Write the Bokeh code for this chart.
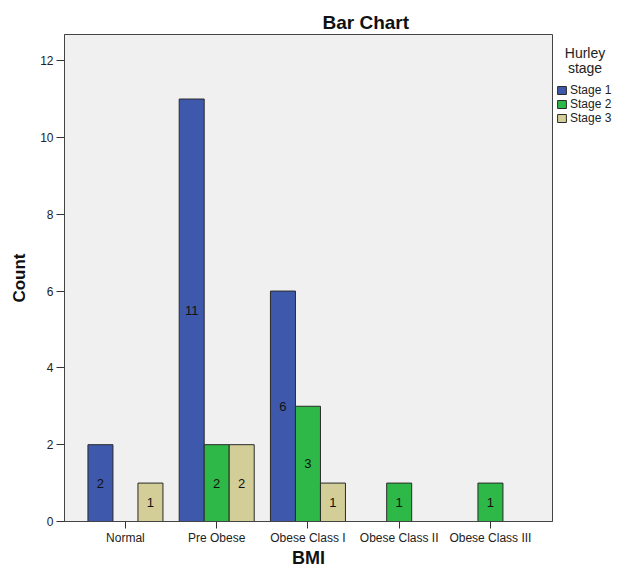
import numpy as np
from bokeh.plotting import figure
from bokeh.layouts import row
from bokeh.models import ColumnDataSource, Range1d, Legend, LegendItem, Title, Label
from bokeh.transform import dodge
from bokeh.core.properties import value
from bokeh.embed import file_html
from bokeh.resources import INLINE

# ---- data ----
categories = ["Normal", "Pre Obese", "Obese Class I", "Obese Class II", "Obese Class III"]
stage_names = ["Stage 1", "Stage 2", "Stage 3"]
stage1 = [2, 11, 6, 0, 0]
stage2 = [0, 2, 3, 1, 1]
stage3 = [1, 2, 1, 0, 0]
y_ticks = [0, 2, 4, 6, 8, 10, 12]

colors = ["#3E58AC", "#2EB848", "#D3CE97"]
FONT = "Liberation Sans"

p = figure(width=554, height=570, output_backend="svg", toolbar_location=None,
           x_range=Range1d(-0.668, 4.68), y_range=Range1d(0, 12.68),
           min_border_left=64, min_border_right=2, min_border_top=34, min_border_bottom=49)
p.background_fill_color = "#F0F0F0"
p.border_fill_color = "white"
p.outline_line_color = "#444444"
p.outline_line_width = 1
p.grid.visible = False

# axes
p.yaxis.ticker = y_ticks
p.yaxis.axis_label = "Count"
p.xaxis.ticker = list(range(len(categories)))
p.xaxis.major_label_overrides = {i: c for i, c in enumerate(categories)}
p.xaxis.axis_label = "BMI"
for ax in (p.xaxis, p.yaxis):
    ax.minor_tick_line_color = None
    ax.major_tick_in = 0
    ax.major_tick_line_color = "#333333"
    ax.axis_line_color = "#444444"
    ax.major_label_text_font = FONT
    ax.major_label_text_font_size = "12px"
    ax.major_label_text_color = "#222222"
    ax.axis_label_text_font = FONT
    ax.axis_label_text_font_style = "bold"
    ax.axis_label_text_color = "#111111"
p.yaxis.major_tick_out = 8
p.yaxis.major_label_standoff = 3
p.yaxis.axis_label_standoff = 8
p.yaxis.axis_label_text_font_size = "17px"
p.xaxis.major_tick_out = 7
p.xaxis.major_label_standoff = 2
p.xaxis.axis_label_standoff = 0
p.xaxis.axis_label_text_font_size = "18px"

width = 0.274
offsets = [-width, 0.0, width]
series = [stage1, stage2, stage3]
sources = []
for name, vals, off, col in zip(stage_names, series, offsets, colors):
    idx = [i for i, v in enumerate(vals) if v > 0]
    src = ColumnDataSource(dict(
        x=idx,
        top=[vals[i] for i in idx],
        mid=[vals[i] / 2 for i in idx],
        lab=[str(vals[i]) for i in idx],
    ))
    sources.append(src)
    p.vbar(x=dodge("x", off), top="top", width=width, source=src,
           fill_color=col, line_color="#2a2a2a", line_width=1)
    p.text(x=dodge("x", off), y="mid", text="lab", source=src,
           text_align="center", text_baseline="middle",
           text_font=value(FONT), text_font_size="13px", text_color="#111111")

title = Title(text="Bar Chart", align="left", offset=258, standoff=3,
              text_font=FONT, text_font_size="19px", text_font_style="bold",
              text_color="#111111", text_line_height=1.0)
p.add_layout(title, "above")

# ---- legend strip to the right of the plot (same data, view range keeps bars off-screen) ----
p2 = figure(width=58, height=570, output_backend="svg", toolbar_location=None,
            x_range=Range1d(-100, -99), y_range=Range1d(0, 1),
            x_axis_location=None, y_axis_location=None, min_border=0)
p2.outline_line_color = None
p2.background_fill_color = "white"
p2.border_fill_color = "white"
p2.grid.visible = False
items = []
for name, src, off, col in zip(stage_names, sources, offsets, colors):
    r = p2.vbar(x=dodge("x", off), top="top", width=width, source=src,
                fill_color=col, line_color="#2a2a2a", line_width=1)
    items.append(LegendItem(label=name, renderers=[r]))
legend = Legend(items=items, location=(2, 396))
legend.border_line_color = None
legend.background_fill_alpha = 0
legend.padding = 0
legend.margin = 0
legend.spacing = 0
legend.glyph_width = 11
legend.glyph_height = 10
legend.label_height = 10
legend.label_standoff = 3
legend.label_text_font = FONT
legend.label_text_font_size = "12px"
legend.label_text_color = "#222222"
p2.add_layout(legend)
for txt, yy in (("Hurley", 469), ("stage", 454)):
    p2.add_layout(Label(x=30.5, y=yy, x_units="screen", y_units="screen", text=txt,
                        text_align="center", text_baseline="alphabetic",
                        text_font=FONT, text_font_size="14px", text_color="#222222"))

open("out.html", "w").write(file_html(row(p, p2), INLINE))
